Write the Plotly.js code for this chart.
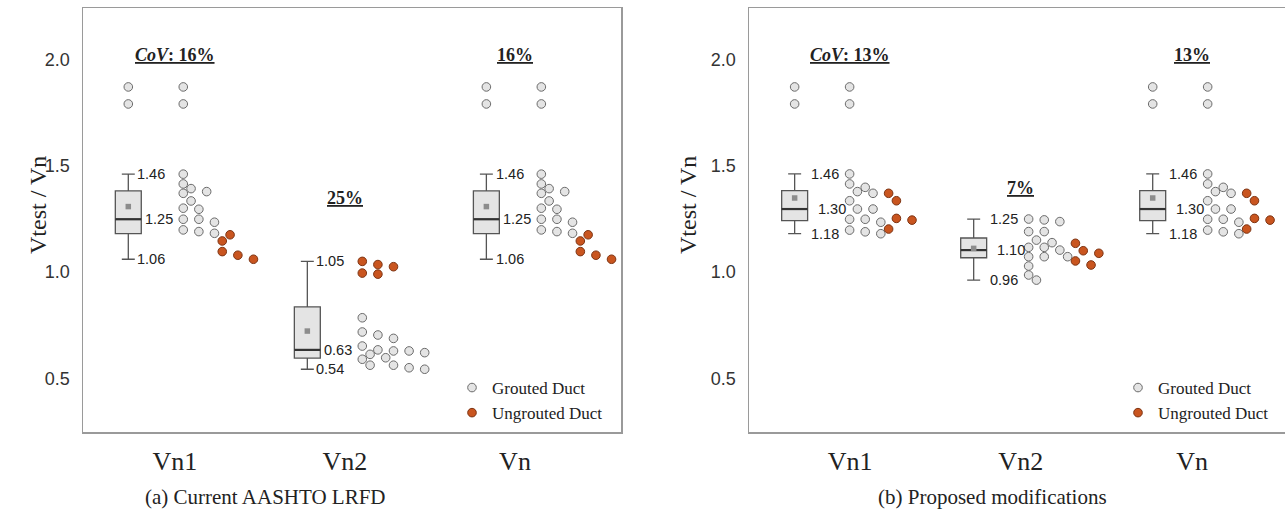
<!DOCTYPE html>
<html><head><meta charset="utf-8">
<script src="https://cdn.plot.ly/plotly-3.0.1.min.js"></script>
<style>html,body{margin:0;padding:0;background:#fff}#chart{width:1285px;height:516px}</style>
</head><body><div id="chart"></div>
<script>
// ---------------- DATA ----------------
const categories = ['Vn1', 'Vn2', 'Vn'];
const seriesNames = ['Grouted Duct', 'Ungrouted Duct'];
const panelCaptions = ['(a) Current AASHTO LRFD', '(b) Proposed modifications'];
const yTitle = 'Vtest / Vn';

// (a) Current AASHTO LRFD  -- Vtest/Vn per specimen
const aGroutedVn1 = [1.87, 1.79, 1.46, 1.414, 1.392, 1.378, 1.37, 1.334, 1.30, 1.295, 1.248, 1.248, 1.234, 1.198, 1.19, 1.182];
const aUngroutedVn1 = [1.175, 1.146, 1.096, 1.079, 1.06];
const aGroutedVn2 = [0.785, 0.718, 0.704, 0.688, 0.652, 0.634, 0.629, 0.629, 0.621, 0.613, 0.597, 0.590, 0.562, 0.562, 0.550, 0.543];
const aUngroutedVn2 = [1.05, 1.035, 1.025, 0.995, 0.99];
const aGroutedVn = [1.87, 1.79, 1.46, 1.414, 1.392, 1.378, 1.37, 1.334, 1.30, 1.295, 1.248, 1.248, 1.234, 1.198, 1.19, 1.182];
const aUngroutedVn = [1.175, 1.146, 1.096, 1.079, 1.06];
const aBoxLabels = [['1.46', '1.25', '1.06'], ['1.05', '0.63', '0.54'], ['1.46', '1.25', '1.06']];
const aCoV = ['<i>CoV</i>: 16%', '25%', '16%'];

// (b) Proposed modifications
const bGroutedVn1 = [1.87, 1.79, 1.461, 1.414, 1.398, 1.378, 1.37, 1.335, 1.296, 1.296, 1.248, 1.248, 1.234, 1.197, 1.189, 1.18];
const bUngroutedVn1 = [1.37, 1.335, 1.252, 1.244, 1.202];
const bGroutedVn2 = [1.249, 1.245, 1.237, 1.19, 1.19, 1.15, 1.138, 1.116, 1.116, 1.103, 1.072, 1.072, 1.072, 1.028, 0.986, 0.962];
const bUngroutedVn2 = [1.135, 1.10, 1.088, 1.052, 1.033];
const bGroutedVn = [1.87, 1.79, 1.461, 1.414, 1.398, 1.378, 1.37, 1.335, 1.296, 1.296, 1.248, 1.248, 1.234, 1.197, 1.189, 1.18];
const bUngroutedVn = [1.37, 1.335, 1.252, 1.244, 1.202];
const bBoxLabels = [['1.46', '1.30', '1.18'], ['1.25', '1.10', '0.96'], ['1.46', '1.30', '1.18']];
const bCoV = ['<i>CoV</i>: 13%', '7%', '13%'];

const yTickVals = [0.5, 1.0, 1.5, 2.0];
const yTickText = ['0.5', '1.0', '1.5', '2.0'];

// ---------------- LAYOUT CONSTANTS ----------------
const W = 1285, H = 516;
const SERIF = 'Liberation Serif, Times New Roman, serif';
const SANS = 'Liberation Sans, Arial, sans-serif';
const yRange = [0.248, 2.241];
const domY = [1 - 432 / H, 1 - 8 / H];
const pxY = (domY[1] - domY[0]) * H / (yRange[1] - yRange[0]);
const BOXW = 0.145, DOTSTART = 0.307, COLPX = 7.8, DIAM = 8.8, NEAR = 0.15;
const greyFill = '#e4e4e4', greyLine = '#6b6b6b', orangeFill = '#c9551f', orangeLine = '#7d3413';

const panels = [
  {grouted: [aGroutedVn1, aGroutedVn2, aGroutedVn], ungrouted: [aUngroutedVn1, aUngroutedVn2, aUngroutedVn],
   labels: aBoxLabels, cov: aCoV, covY: [2.02, 1.348, 2.02], xa: 'x', ya: 'y', legend: 'legend',
   dom: [83 / W, 621 / W], xr: [0.747, 3.752], tickShift: [0.26, 0.21, 0.16], lblOff: [0.04, 0.084, 0.04],
   lblSize: 14.5, caption: panelCaptions[0], capX: 265, titleX: 38, legX: 452},
  {grouted: [bGroutedVn1, bGroutedVn2, bGroutedVn], ungrouted: [bUngroutedVn1, bUngroutedVn2, bUngroutedVn],
   labels: bBoxLabels, cov: bCoV, covY: [2.02, 1.395, 2.02], xa: 'x2', ya: 'y2', legend: 'legend2',
   dom: [749 / W, 1], xr: [0.745, 3.739], tickShift: [0.31, 0.263, 0.22], lblOff: [0.082, 0.119, 0.082],
   lblSize: 14.5, caption: panelCaptions[1], capX: 992, titleX: 688, legX: 1118}
];

function quant(sorted, p) {
  const pos = (sorted.length - 1) * p, lo = Math.floor(pos), hi = Math.ceil(pos);
  return sorted[lo] + (sorted[hi] - sorted[lo]) * (pos - lo);
}
// one-sided swarm on a column grid; second group starts right of nearby first-group points
function swarm(g, u, pxX) {
  const placed = [];
  const put = (v, c0) => {
    const y = v * pxY;
    for (let c = c0; ; c++) {
      const x = c * COLPX;
      if (placed.every(p => Math.hypot(p.x - x, p.y - y) >= DIAM)) { placed.push({x, y, c, v}); return x / pxX; }
    }
  };
  const go = g.map(v => put(v, 0));
  const gPlaced = placed.slice();
  const uo = u.map(v => {
    const near = gPlaced.filter(p => Math.abs(p.v - v) <= NEAR);
    const c0 = near.length ? Math.max(...near.map(p => p.c)) + 1 : 0;
    return put(v, c0);
  });
  return [go, uo];
}

const traces = [];
const annotations = [];
const layout = {
  width: W, height: H, margin: {l: 0, r: 0, t: 0, b: 0},
  paper_bgcolor: '#fff', plot_bgcolor: '#fff', showlegend: true, annotations
};

panels.forEach((P, pi) => {
  const pxX = (P.dom[1] - P.dom[0]) * W / (P.xr[1] - P.xr[0]);
  const sfx = pi === 0 ? '' : '2';
  layout['xaxis' + sfx] = {
    domain: P.dom, range: P.xr, anchor: 'y' + sfx, showgrid: false, zeroline: false,
    showline: true, mirror: true, linecolor: '#9a9a9a', linewidth: 1.5, ticks: '',
    tickvals: categories.map((c, i) => i + 1 + P.tickShift[i]), ticktext: categories,
    tickfont: {family: SERIF, size: 26, color: '#222'}, ticklabelstandoff: 5
  };
  layout['yaxis' + sfx] = {
    domain: domY, range: yRange, anchor: 'x' + sfx, showgrid: false, zeroline: false,
    showline: true, mirror: pi === 0, linecolor: '#9a9a9a', linewidth: 1.5, ticks: '',
    tickvals: yTickVals, ticktext: yTickText, tickfont: {family: SANS, size: 18, color: '#333'},
    ticklabelstandoff: 8
  };
  layout[P.legend] = {
    x: P.legX / W, y: 1 - 370 / H, xanchor: 'left', yanchor: 'top',
    bgcolor: 'rgba(0,0,0,0)', font: {family: SERIF, size: 17, color: '#222'},
    tracegroupgap: 5, traceorder: 'normal'
  };

  categories.forEach((cat, i) => {
    const xc = i + 1;
    const g = P.grouted[i], u = P.ungrouted[i];
    const all = g.concat(u);
    const s = all.slice().sort((a, b) => a - b);
    const q1 = quant(s, 0.25), q3 = quant(s, 0.75), med = quant(s, 0.5);
    const iqr = q3 - q1;
    const wHi = Math.max(...s.filter(v => v <= q3 + 1.5 * iqr));
    const wLo = Math.min(...s.filter(v => v >= q1 - 1.5 * iqr));
    const mean = all.reduce((a, b) => a + b, 0) / all.length;

    traces.push({
      type: 'box', x0: xc, y: all, width: BOXW, xaxis: P.xa, yaxis: P.ya, name: cat,
      fillcolor: greyFill, line: {color: '#555', width: 1.3}, whiskerwidth: 0.5,
      boxpoints: 'outliers', pointpos: 0, jitter: 0, boxmean: false,
      marker: {color: greyFill, size: 8.6, line: {color: greyLine, width: 1}},
      showlegend: false, hoverinfo: 'skip'
    });
    traces.push({
      type: 'scatter', mode: 'lines', x: [xc - BOXW / 2, xc + BOXW / 2], y: [med, med],
      xaxis: P.xa, yaxis: P.ya, line: {color: '#333', width: 2.2}, showlegend: false, hoverinfo: 'skip'
    });
    traces.push({
      type: 'scatter', mode: 'markers', x: [xc], y: [mean], xaxis: P.xa, yaxis: P.ya,
      marker: {symbol: 'square', size: 5.5, color: '#8c8c8c'}, showlegend: false, hoverinfo: 'skip'
    });

    const [go, uo] = swarm(g, u, pxX);
    traces.push({
      type: 'scatter', mode: 'markers', x: go.map(o => xc + DOTSTART + o), y: g, xaxis: P.xa, yaxis: P.ya,
      name: seriesNames[0], legend: P.legend, legendgroup: P.legend + 'g', showlegend: i === 0,
      marker: {color: greyFill, size: 8.6, line: {color: greyLine, width: 1}}
    });
    traces.push({
      type: 'scatter', mode: 'markers', x: uo.map(o => xc + DOTSTART + o), y: u, xaxis: P.xa, yaxis: P.ya,
      name: seriesNames[1], legend: P.legend, legendgroup: P.legend + 'u', showlegend: i === 0,
      marker: {color: orangeFill, size: 8.6, line: {color: orangeLine, width: 1}}
    });

    const lab = P.labels[i];
    [[wHi, lab[0], P.lblOff[0]], [med, lab[1], P.lblOff[1]], [wLo, lab[2], P.lblOff[2]]].forEach(([yv, t, off]) => {
      annotations.push({xref: P.xa, yref: P.ya, x: xc + off, y: yv, text: t, showarrow: false,
        xanchor: 'left', yanchor: 'middle', font: {family: SANS, size: P.lblSize, color: '#222'}});
    });
    annotations.push({xref: P.xa, yref: P.ya, x: xc + P.tickShift[i], y: P.covY[i],
      text: '<u><b>' + P.cov[i] + '</b></u>', showarrow: false, xanchor: 'center', yanchor: 'middle',
      font: {family: SERIF, size: 18, color: '#222'}});
  });

  annotations.push({xref: 'paper', yref: 'paper', x: P.titleX / W, y: 1 - 205 / H, text: yTitle,
    textangle: -90, showarrow: false, xanchor: 'center', yanchor: 'middle',
    font: {family: SERIF, size: 24, color: '#222'}});
  annotations.push({xref: 'paper', yref: 'paper', x: P.capX / W, y: 1 - 497 / H, text: P.caption,
    showarrow: false, xanchor: 'center', yanchor: 'middle', font: {family: SERIF, size: 21, color: '#222'}});
});

Plotly.newPlot('chart', traces, layout, {displayModeBar: false, staticPlot: true});
</script>
</body></html>
